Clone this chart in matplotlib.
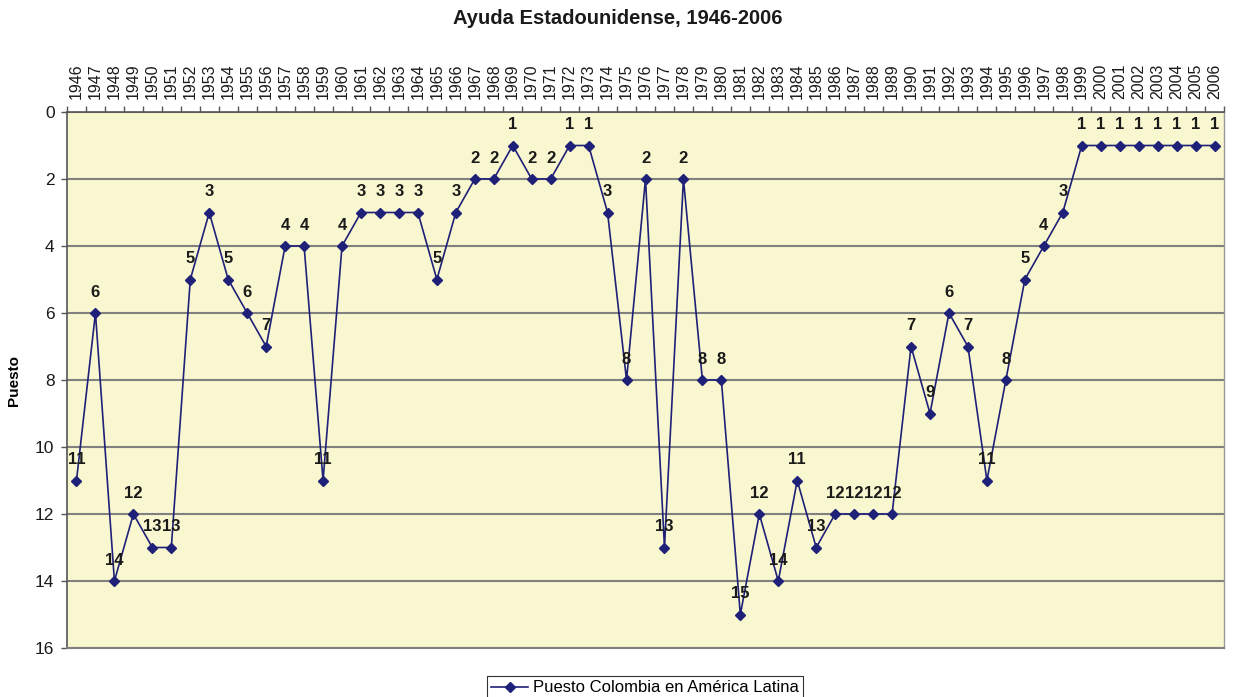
import matplotlib
matplotlib.use("Agg")
import matplotlib.pyplot as plt
from matplotlib.ticker import FixedLocator

plt.rcParams['font.family'] = ['Liberation Sans', 'DejaVu Sans']

years = list(range(1946, 2007))
puesto = [11, 6, 14, 12, 13, 13, 5, 3, 5, 6, 7, 4, 4, 11, 4, 3, 3, 3, 3, 5,
          3, 2, 2, 1, 2, 2, 1, 1, 3, 8, 2, 13, 2, 8, 8, 15, 12, 14, 11, 13,
          12, 12, 12, 12, 7, 9, 6, 7, 11, 8, 5, 4, 3, 1, 1, 1, 1, 1, 1, 1, 1]
title = "Ayuda Estadounidense, 1946-2006"
series_name = "Puesto Colombia en América Latina"
y_label = "Puesto"

line_color = '#1F2078'
bg_color = '#F9F7CF'
grid_color = '#808080'

fig = plt.figure(figsize=(12.36, 6.97), dpi=100)
ax = fig.add_axes([67/1236, 1 - 648/697, (1224 - 67)/1236, (648 - 112)/697])
ax.set_facecolor(bg_color)

x = list(range(len(years)))
ax.plot(x, puesto, color=line_color, lw=1.2, marker='D', markersize=5.5,
        markerfacecolor=line_color, markeredgecolor=line_color, label=series_name, zorder=3)

for xi, v in zip(x, puesto):
    ax.annotate(str(v), (xi, v), xytext=(0, 15), textcoords='offset points',
                ha='center', va='center', fontsize=12, fontweight='bold',
                color='#1a1a1a', zorder=4)

ax.set_xlim(-0.5, len(years) - 0.5)
ax.set_ylim(16, 0)
ax.set_yticks(range(0, 17, 2))
ax.yaxis.grid(True, color=grid_color, lw=1.5)
ax.set_axisbelow(True)

ax.xaxis.tick_top()
ax.set_xticks(x)
ax.set_xticklabels([str(y) for y in years], rotation=90, fontsize=11.5)
ax.xaxis.set_minor_locator(FixedLocator([i - 0.5 for i in range(len(years) + 1)]))
ax.tick_params(axis='x', which='major', length=0, pad=9.5, colors='#1a1a1a')
ax.tick_params(axis='x', which='minor', length=4, width=1, color='#555555', top=True, bottom=False)
ax.tick_params(axis='y', which='major', length=4, width=1, color='#555555', pad=5, labelsize=12.5, labelcolor='#1a1a1a')

for s in ['left', 'top']:
    ax.spines[s].set_color('#555555')
    ax.spines[s].set_linewidth(1.2)
ax.spines['right'].set_color('#999999')
ax.spines['right'].set_linewidth(1)
ax.spines['bottom'].set_color(grid_color)
ax.spines['bottom'].set_linewidth(1.5)

ax.set_ylabel(y_label, fontsize=11, fontweight='bold', labelpad=10)
fig.text(0.5, 1 - 19/697, title, ha='center', va='center', fontsize=14.5, fontweight='bold',
         color='#1a1a1a')

leg = fig.legend(loc='center', bbox_to_anchor=(645/1236, 1 - 688/697), fontsize=12,
                 frameon=True, fancybox=False, edgecolor='black', handlelength=2.2,
                 borderpad=0.25, handletextpad=0.3)
leg.get_frame().set_linewidth(0.8)

fig.savefig('out.png', dpi=100)
